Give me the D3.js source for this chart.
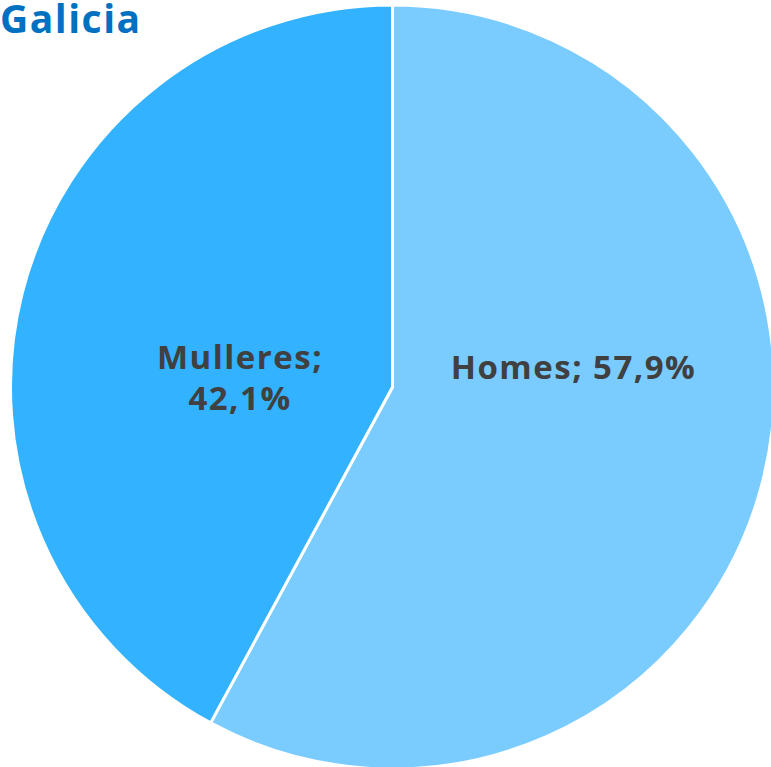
<!DOCTYPE html>
<html><head><meta charset="utf-8">
<script src="https://cdn.jsdelivr.net/npm/d3@7"></script>
<style>body{margin:0;background:#fff;}svg{display:block;}</style>
</head><body>
<svg id="c" width="771" height="767"></svg>
<script>
const categories = ["Homes", "Mulleres"];
const values = [57.9, 42.1];
const labels = ["Homes; 57,9%", "Mulleres;|42,1%"];
const colors = ["#7ACCFF", "#33B2FF"];
const title = "Galicia";

const svg = d3.select("#c");
const cx = 392.5, cy = 387, r = 382;
const g = svg.append("g").attr("transform", `translate(${cx},${cy})`);
const pie = d3.pie().sort(null).value(d => d)(values);
const arc = d3.arc().innerRadius(0).outerRadius(r);
g.selectAll("path").data(pie).join("path")
  .attr("d", arc).attr("fill", (d,i) => colors[i])
  .attr("stroke", "#fff").attr("stroke-width", 3).attr("stroke-linejoin","miter");

const labelOffsets = [[181,-19.5],[-152.5,-9]];
const fs = 33;
g.selectAll("text.lab").data(pie).join("text").attr("class","lab")
  .attr("text-anchor","middle")
  .attr("font-family","'Open Sans', sans-serif")
  .attr("font-weight","bold").attr("font-size", fs).attr("fill","#404040")
  .attr("letter-spacing", 1.5)
  .each(function(d,i){
    const lines = labels[i].split("|");
    const t = d3.select(this);
    const [ox, oy] = labelOffsets[i];
    const lh = 41;
    lines.forEach((ln, k) => {
      t.append("tspan").attr("x", ox)
       .attr("y", oy + (k - (lines.length-1)/2) * lh)
       .attr("dy","0.35em").text(ln);
    });
  });

svg.append("text").attr("x", 0).attr("y", 33)
  .attr("font-family","'Open Sans', sans-serif")
  .attr("font-weight","bold").attr("font-size", 39).attr("fill","#0070C0")
  .attr("letter-spacing", 1.5)
  .text(title);
</script>
</body></html>
